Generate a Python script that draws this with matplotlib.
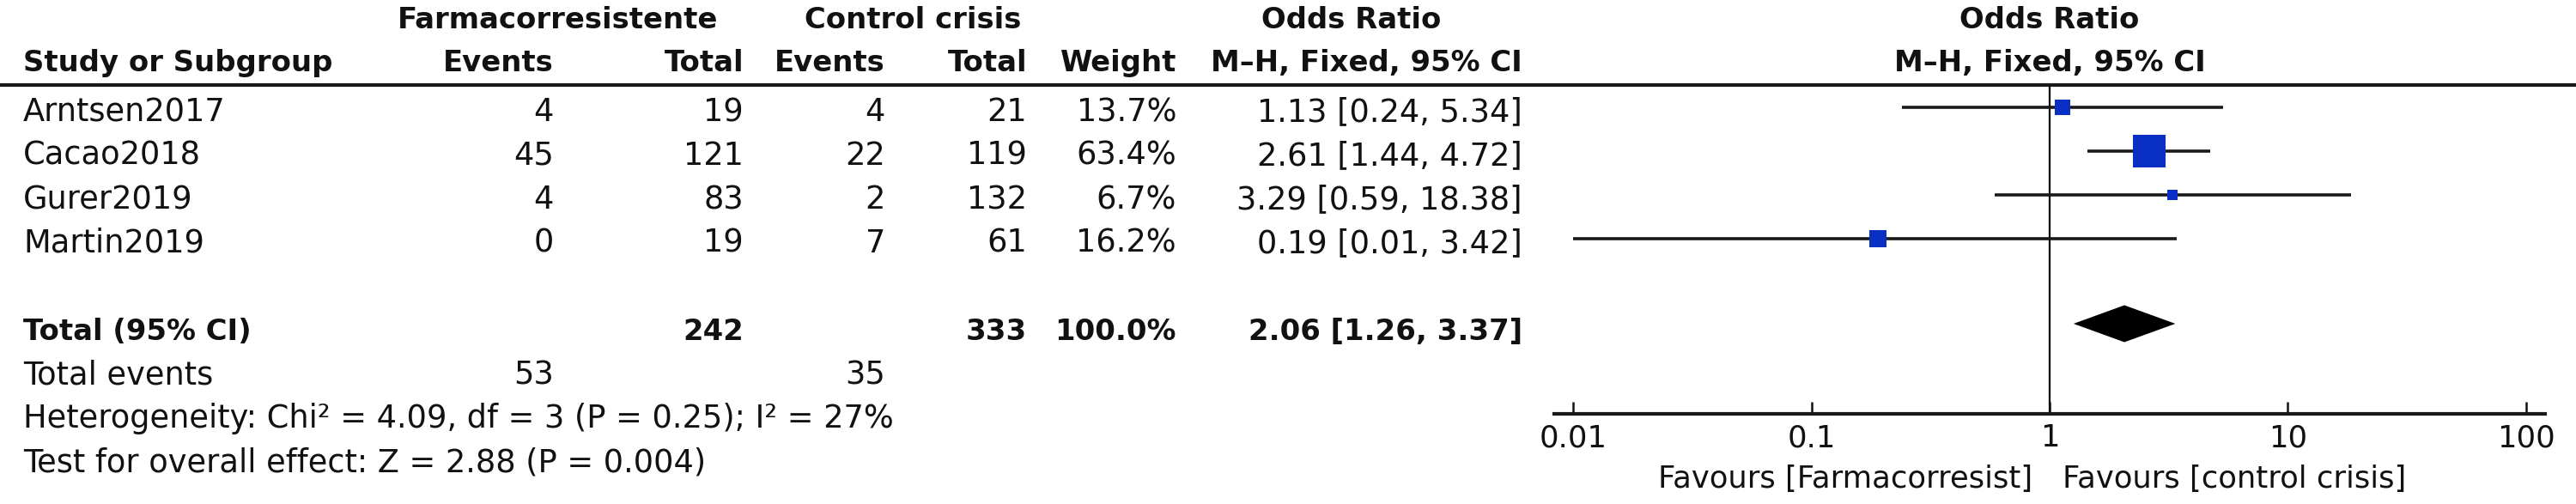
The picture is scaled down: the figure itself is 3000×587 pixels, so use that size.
import numpy as np
import matplotlib
matplotlib.use("Agg")
import matplotlib.pyplot as plt

# study rows
studies = ["Arntsen2017", "Cacao2018", "Gurer2019", "Martin2019"]
farm_events = [4, 45, 4, 0]
farm_total = [19, 121, 83, 19]
ctrl_events = [4, 22, 2, 7]
ctrl_total = [21, 119, 132, 61]
weights = [13.7, 63.4, 6.7, 16.2]
odds = [1.13, 2.61, 3.29, 0.19]
ci_low = [0.24, 1.44, 0.59, 0.01]
ci_high = [5.34, 4.72, 18.38, 3.42]

# pooled
total_farm = 242
total_ctrl = 333
total_weight = 100.0
pooled_or = 2.06
pooled_low = 1.26
pooled_high = 3.37
events_farm = 53
events_ctrl = 35
heterogeneity = "Heterogeneity: Chi\u00b2 = 4.09, df = 3 (P = 0.25); I\u00b2 = 27%"
overall = "Test for overall effect: Z = 2.88 (P = 0.004)"

axis_ticks = [0.01, 0.1, 1, 10, 100]
axis_ticklabels = ["0.01", "0.1", "1", "10", "100"]
favours_left = "Favours [Farmacorresist]"
favours_right = "Favours [control crisis]"

plt.rcParams['font.family'] = ['DejaVu Sans']
W, H = 3000, 587
fig = plt.figure(figsize=(W / 100, H / 100), dpi=100)

# background axes in pixel coordinates for the table
bg = fig.add_axes([0, 0, 1, 1])
bg.set_xlim(0, W)
bg.set_ylim(H, 0)
bg.axis('off')

FS = 26.5
FSB = 24.4  # bold text renders wider, keep it a bit smaller
ROW0, STEP = 125, 51
TXT = '#111111'

def row_y(i):
    return ROW0 + STEP * i

def put(x, i, s, ha='right', bold=False, dy=16):
    bg.text(x, row_y(i) + dy, s, ha=ha, va='baseline', fontsize=FSB if bold else FS,
            fontweight='bold' if bold else 'normal', color=TXT)

def head(x, y, s, ha='center'):
    bg.text(x, y, s, ha=ha, va='baseline', fontsize=FSB, fontweight='bold', color=TXT)

# column right edges
X_STUDY = 27
X_FE, X_FT, X_CE, X_CT, X_W, X_OR = 645, 866, 1031, 1196, 1370, 1773

# headers
hdr1, hdr2 = 33, 83
head(650, hdr1, "Farmacorresistente")
head(1063, hdr1, "Control crisis")
head(1574, hdr1, "Odds Ratio")
head(2387, hdr1, "Odds Ratio")
head(X_STUDY, hdr2, "Study or Subgroup", ha='left')
for x, s in [(X_FE, "Events"), (X_FT, "Total"), (X_CE, "Events"), (X_CT, "Total"),
             (X_W, "Weight"), (X_OR, "M\u2013H, Fixed, 95% CI")]:
    head(x, hdr2, s, ha='right')
head(2387, hdr2, "M\u2013H, Fixed, 95% CI")
bg.axhline(99, color='#1a1a1a', lw=3.0)

# study rows
for i, name in enumerate(studies):
    put(X_STUDY, i, name, ha='left')
    put(X_FE, i, str(farm_events[i]))
    put(X_FT, i, str(farm_total[i]))
    put(X_CE, i, str(ctrl_events[i]))
    put(X_CT, i, str(ctrl_total[i]))
    put(X_W, i, f"{weights[i]:.1f}%")
    put(X_OR, i, f"{odds[i]:.2f} [{ci_low[i]:.2f}, {ci_high[i]:.2f}]")

# total rows
put(X_STUDY, 5, "Total (95% CI)", ha='left', bold=True)
put(X_FT, 5, str(total_farm), bold=True)
put(X_CT, 5, str(total_ctrl), bold=True)
put(X_W, 5, f"{total_weight:.1f}%", bold=True)
put(X_OR, 5, f"{pooled_or:.2f} [{pooled_low:.2f}, {pooled_high:.2f}]", bold=True)
put(X_STUDY, 6, "Total events", ha='left')
put(X_FE, 6, str(events_farm))
put(X_CE, 6, str(events_ctrl))
put(X_STUDY, 7, heterogeneity, ha='left')
put(X_STUDY, 8, overall, ha='left')

# forest plot axes
x0, x1 = 1810, 2964
ytop, ybot = 99, 482
ax = fig.add_axes([x0 / W, 1 - ybot / H, (x1 - x0) / W, (ybot - ytop) / H])
ax.patch.set_alpha(0)
ax.set_xscale('log')
ax.set_xlim(10 ** -2.08, 10 ** 2.08)
ax.set_ylim((ybot - ROW0) / STEP, (ytop - ROW0) / STEP)

rows = np.arange(len(studies))
ax.hlines(rows, ci_low, ci_high, color='#1a1a1a', lw=2.6, zorder=2)
sides = 4.77 * np.sqrt(weights) * 0.72
for r, o, s in zip(rows, odds, sides):
    ax.plot(o, r, marker='s', ms=s, color='#0a2fc4', mew=0, zorder=3)

# pooled diamond
yt = 5 - 3 / STEP
h = 21.5 / STEP
ax.fill([pooled_low, pooled_or, pooled_high, pooled_or], [yt, yt - h, yt, yt + h],
        color='black', lw=0, zorder=3)

ax.axvline(1, color='black', lw=1.6, zorder=1)

for sp in ['top', 'left', 'right']:
    ax.spines[sp].set_visible(False)
ax.spines['bottom'].set_linewidth(3.0)
ax.spines['bottom'].set_color('#1a1a1a')
ax.set_yticks([])
ax.set_xticks(axis_ticks)
ax.set_xticklabels(axis_ticklabels)
ax.xaxis.set_minor_locator(matplotlib.ticker.NullLocator())
ax.tick_params(axis='x', direction='in', length=10, width=1.8, pad=8,
               labelsize=25.5, colors='#111111')

bg.text(2367, 568, favours_left, ha='right', va='baseline', fontsize=25.5, color=TXT)
bg.text(2402, 568, favours_right, ha='left', va='baseline', fontsize=25.5, color=TXT)

fig.savefig("out.png", dpi=100)
